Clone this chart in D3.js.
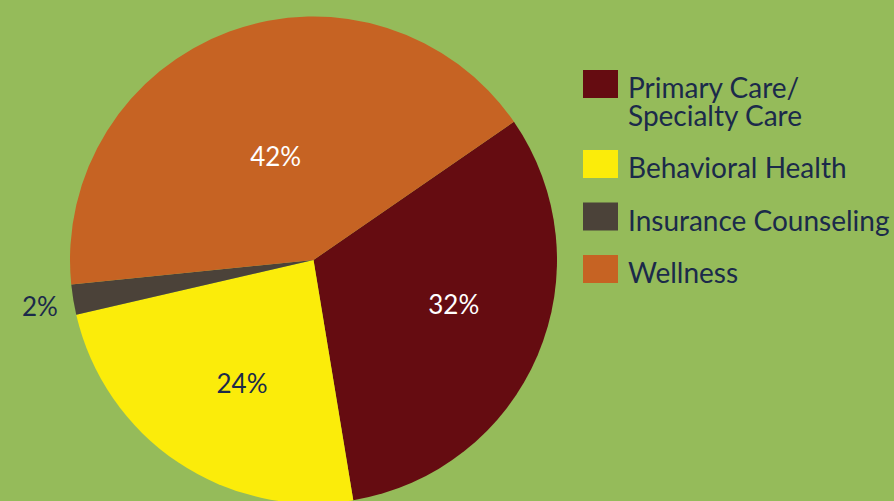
<!DOCTYPE html>
<html>
<head>
<meta charset="utf-8">
<script src="https://cdn.jsdelivr.net/npm/d3@7"></script>
<style>
  html, body { margin: 0; padding: 0; background: #95bb5a; }
  svg { display: block; }
  text { font-family: "Lato", "Noto Sans", sans-serif; }
</style>
</head>
<body>
<div id="chart"></div>
<script>
// slice data, in drawing order (clockwise)
var categories = ["Primary Care/\nSpecialty Care", "Behavioral Health", "Insurance Counseling", "Wellness"];
var values = [32, 24, 2, 42];
var colors = ["#650c11", "#fbec0a", "#4b4239", "#c66323"];
var labelColors = ["#ffffff", "#1b2a4a", "#1b2a4a", "#ffffff"];

//label placement: share of radius and small angle nudge (degrees)
var labelRadii = [0.605, 0.587, 1.14, 0.45];
var labelShift = [-5.2, -3.8, -0.4, 0];

var width = 894, height = 501;
var cx = 313.5, cy = 260, radius = 243.5;
var startAngle = 55.4 * Math.PI / 180;

var svg = d3.select("#chart")
    .append("svg")
    .attr("width", width)
    .attr("height", height);

var pie = d3.pie()
    .sort(null)
    .startAngle(startAngle)
    .endAngle(startAngle + 2 * Math.PI)
    .value(function (d) { return d; });

var arcs = pie(values);

var arc = d3.arc()
    .innerRadius(0)
    .outerRadius(radius);

var g = svg.append("g")
    .attr("transform", "translate(" + cx + "," + cy + ")");

g.selectAll("path")
    .data(arcs)
    .enter()
    .append("path")
    .attr("d", arc)
    .attr("fill", function (d, i) { return colors[i]; });

g.selectAll("text.pct")
    .data(arcs)
    .enter()
    .append("text")
    .attr("class", "pct")
    .attr("transform", function (d, i) {
        var r = radius * labelRadii[i];
        var a = (d.startAngle + d.endAngle) / 2 + labelShift[i] * Math.PI / 180;
        return "translate(" + (Math.sin(a) * r) + "," + (-Math.cos(a) * r) + ")";
    })
    .attr("dy", "0.35em")
    .attr("text-anchor", "middle")
    .attr("font-size", "26px")
    .attr("fill", function (d, i) { return labelColors[i]; })
    .text(function (d, i) { return values[i] + "%"; });

// legend - rows stack, two-line entry takes extra room
var rowTops = [];
var y = 70;
categories.forEach(function (c) {
    rowTops.push(y);
    y += c.split("\n").length > 1 ? 80 : 52.5;
});

var rows = svg.append("g")
    .selectAll("g")
    .data(categories)
    .enter()
    .append("g")
    .attr("transform", function (d, i) {
        return "translate(583," + rowTops[i] + ")";
    });

rows.append("rect")
    .attr("width", 35)
    .attr("height", 28)
    .attr("fill", function (d, i) { return colors[i]; });

rows.append("text")
    .attr("x", 45)
    .attr("y", 28)
    .attr("font-size", "28px")
    .attr("fill", "#1b2a4a")
    .selectAll("tspan")
    .data(function (d) { return d.split("\n"); })
    .enter()
    .append("tspan")
    .attr("x", 45)
    .attr("dy", function (d, j) { return j === 0 ? 0 : 28.4; })
    .text(function (d) { return d; });
</script>
</body>
</html>
